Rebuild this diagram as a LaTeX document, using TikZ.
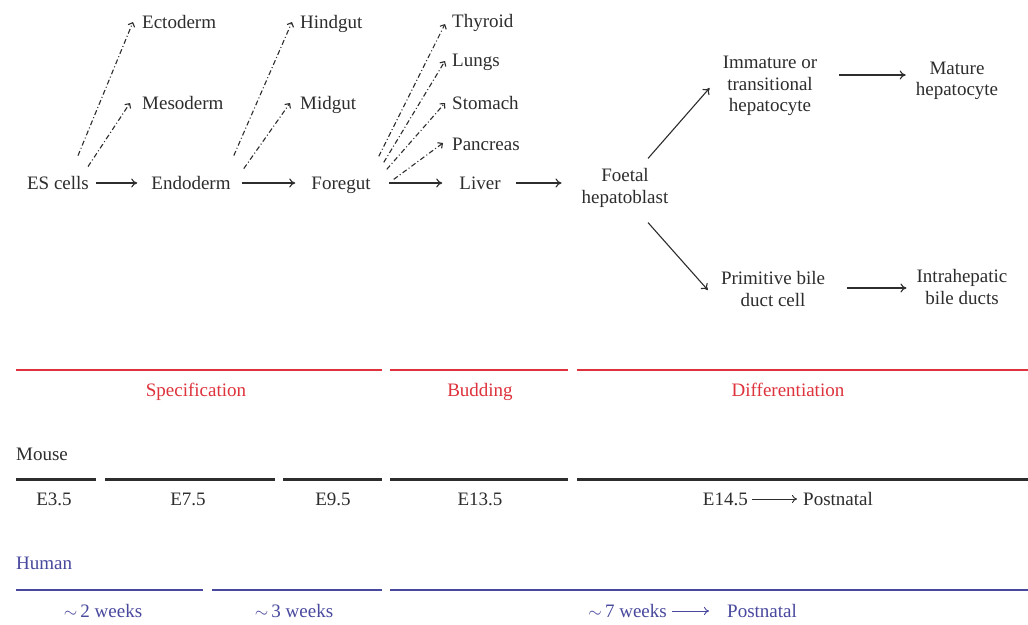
\documentclass[tikz,border=0pt]{standalone}
\usepackage{fontspec}
\setmainfont{Liberation Serif}
\usetikzlibrary{arrows.meta}
\definecolor{phred}{RGB}{222,50,60}
\definecolor{phblue}{RGB}{72,72,158}
\definecolor{phtext}{RGB}{45,45,45}
\begin{document}
\begin{tikzpicture}[x=1pt,y=-1pt,
  lbl/.style={font=\fontsize{19}{21.5}\selectfont, inner sep=0pt, align=center, text=phtext},
  redlbl/.style={lbl, text=phred},
  bluelbl/.style={lbl, text=phblue},
  flow/.style={draw=phtext, line width=1.1pt, -{To[length=6pt,width=9pt]}},
  thinflow/.style={draw=phtext, line width=0.9pt, -{To[length=5pt,width=8pt]}},
  branch/.style={draw=phtext, line width=1.1pt, dash pattern=on 5pt off 2.5pt on 1pt off 2.5pt,
     -{Straight Barb[length=3.5pt,width=7pt,line width=1.1pt]}},
  redbar/.style={draw=phred, line width=2.2pt},
  blackbar/.style={draw=phtext, line width=3pt},
  bluebar/.style={draw=phblue, line width=2.5pt}]
\useasboundingbox (0,0) rectangle (1028,624);
\fill[white] (0,0) rectangle (1028,624);

% main chain
\node[lbl, anchor=base] (es) at (58,189) {ES cells};
\node[lbl, anchor=base] (endo) at (191,189) {Endoderm};
\node[lbl, anchor=base] (fore) at (341,189) {Foregut};
\node[lbl, anchor=base] (liver) at (480,189) {Liver};
\node[lbl] (foetal) at (625,188) {Foetal\\hepatoblast};
\node[lbl] (immat) at (770,86) {Immature or\\transitional\\hepatocyte};
\node[lbl] (mature) at (957,81) {Mature\\hepatocyte};
\node[lbl] (prim) at (773,289) {Primitive bile\\duct cell};
\node[lbl] (intra) at (962,287) {Intrahepatic\\bile ducts};

% branch targets
\node[lbl, anchor=base west] (ecto) at (142,28) {Ectoderm};
\node[lbl, anchor=base west] (meso) at (142,109) {Mesoderm};
\node[lbl, anchor=base west] (hind) at (300,28) {Hindgut};
\node[lbl, anchor=base west] (mid) at (300,109) {Midgut};
\node[lbl, anchor=base west] (thyr) at (452,27) {Thyroid};
\node[lbl, anchor=base west] (lungs) at (452,66) {Lungs};
\node[lbl, anchor=base west] (stom) at (452,109) {Stomach};
\node[lbl, anchor=base west] (panc) at (452,150) {Pancreas};

% solid arrows
\draw[flow] ([xshift=7pt,yshift=6pt]es.base east) -- ([xshift=-14pt,yshift=6pt]endo.base west);
\draw[flow] ([xshift=11pt,yshift=6pt]endo.base east) -- ([xshift=-16pt,yshift=6pt]fore.base west);
\draw[flow] ([xshift=18pt,yshift=6pt]fore.base east) -- ([xshift=-17pt,yshift=6pt]liver.base west);
\draw[flow] ([xshift=15pt,yshift=6pt]liver.base east) -- ([shift={(-20,-5)}]foetal.west);
\draw[flow] ([shift={(23,-10)}]foetal.north) -- ([shift={(-13,2)}]immat.west);
\draw[flow] ([shift={(23,15)}]foetal.south) -- ([shift={(-13,1)}]prim.west);
\draw[flow] ([shift={(22,-11)}]immat.east) -- ([shift={(-10,-6)}]mature.west);
\draw[flow] ([shift={(22,-1)}]prim.east) -- ([shift={(-10,1)}]intra.west);

% dash-dot branches
\draw[branch] ([shift={(20,-20)}]es.north) -- ([shift={(-9,-6)}]ecto.base west);
\draw[branch] ([shift={(30,-9)}]es.north) -- ([shift={(-12,-6)}]meso.base west);
\draw[branch] ([shift={(3,-20)}]endo.north east) -- ([shift={(-8,-6)}]hind.base west);
\draw[branch] ([shift={(13,-7)}]endo.north east) -- ([shift={(-10,-6)}]mid.base west);
\draw[branch] ([shift={(8,-20)}]fore.north east) -- ([shift={(-7,-3)}]thyr.base west);
\draw[branch] ([shift={(13,-14)}]fore.north east) -- ([shift={(-7,-5)}]lungs.base west);
\draw[branch] ([shift={(16,-7)}]fore.north east) -- ([shift={(-7,-6)}]stom.base west);
\draw[branch] ([shift={(23,3)}]fore.north east) -- ([shift={(-9,-7)}]panc.base west);

% stage bars
\draw[redbar] (16,370) -- (382,370);
\draw[redbar] (390,370) -- (568,370);
\draw[redbar] (577,370) -- (1028,370);
\node[redlbl, anchor=base] (spec) at (196,396) {Specification};
\node[redlbl, anchor=base] (bud) at (480,396) {Budding};
\node[redlbl, anchor=base] (diff) at (788,396) {Differentiation};

% mouse
\node[lbl, anchor=base west] (mouse) at (16,460) {Mouse};
\draw[blackbar] (16,479) -- (96,479);
\draw[blackbar] (105,479) -- (275,479);
\draw[blackbar] (283,479) -- (382,479);
\draw[blackbar] (390,479) -- (568,479);
\draw[blackbar] (577,479) -- (1028,479);
\node[lbl, anchor=base] (e35) at (54,505) {E3.5};
\node[lbl, anchor=base] (e75) at (188,505) {E7.5};
\node[lbl, anchor=base] (e95) at (333,505) {E9.5};
\node[lbl, anchor=base] (e135) at (480,505) {E13.5};
\node[lbl, anchor=base east] (e145) at (748,505) {E14.5};
\node[lbl, anchor=base west] (mpost) at (803,505) {Postnatal};
\draw[thinflow] ([shift={(4,-6)}]e145.base east) -- ([shift={(-6,-6)}]mpost.base west);

% human
\node[bluelbl, anchor=base west] (human) at (16,569) {Human};
\draw[bluebar] (16,590) -- (203,590);
\draw[bluebar] (212,590) -- (382,590);
\draw[bluebar] (390,590) -- (1028,590);
\node[bluelbl, anchor=base] (w2) at (103,617) {$\sim$\,2 weeks};
\node[bluelbl, anchor=base] (w3) at (294,617) {$\sim$\,3 weeks};
\node[bluelbl, anchor=base east] (w7) at (667,617) {$\sim$\,7 weeks};
\node[bluelbl, anchor=base west] (hpost) at (727,617) {Postnatal};
\draw[thinflow, draw=phblue] ([shift={(5,-6)}]w7.base east) -- ([shift={(-18,-6)}]hpost.base west);
\end{tikzpicture}
\end{document}
